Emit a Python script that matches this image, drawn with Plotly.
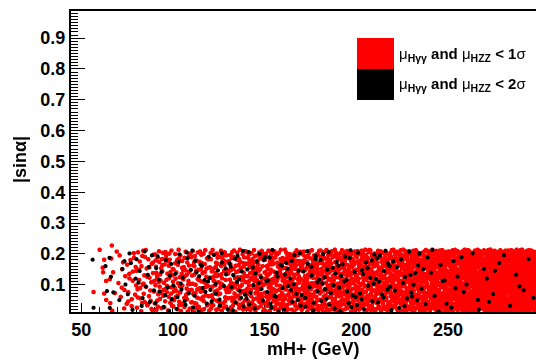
import plotly.graph_objects as go

# ---------------- data ----------------
# isolated points at the low-mass edge, read individually
edge_red_x = [56.7, 60.0, 66.7, 62.5, 61.7, 61.9, 62.5, 63.5, 65.8]
edge_red_y = [0.076, 0.213, 0.227, 0.181, 0.155, 0.140, 0.071, 0.112, 0.040]
edge_black_x = [56.2, 56.7, 65.4, 64.0, 63.2]
edge_black_y = [0.181, 0.025, 0.187, 0.079, 0.160]

# dense band: number of visible points per mH+ bin, estimated from the coverage in the picture
bin_edges = [62, 66, 70, 75, 80, 90, 100, 110, 120, 130, 140, 150, 160, 170, 180,
             190, 200, 210, 220, 230, 240, 250, 260, 270, 280, 290, 298]
red_counts = [2, 5, 10, 15, 42, 58, 62, 62, 66, 70, 88, 94, 98, 102, 108,
              114, 122, 128, 138, 148, 164, 180, 196, 206, 216, 176]
black_counts = [1, 2, 4, 5, 12, 14, 15, 15, 15, 16, 16, 16, 16, 16, 16,
                16, 15, 14, 12, 10, 8, 6, 5, 5, 4, 3]
band_y = [0.012, 0.214]   # vertical extent of the band of |sin alpha|

x_ticks = [50, 100, 150, 200, 250]
y_ticks = [0.1, 0.2, 0.3, 0.4, 0.5, 0.6, 0.7, 0.8, 0.9]


def vdc(k, base):
    """van der Corput radical inverse (deterministic low-discrepancy placement)."""
    v, denom = 0.0, 1.0
    while k:
        k, rem = divmod(k, base)
        denom *= base
        v += rem / denom
    return v


def fill_bins(counts, start, bx, by):
    xs, ys = [], []
    k = start
    for i, n in enumerate(counts):
        lo, hi = bin_edges[i], bin_edges[i + 1]
        for _ in range(n):
            k += 1
            xs.append(lo + (hi - lo) * vdc(k, bx))
            ys.append(band_y[0] + (band_y[1] - band_y[0]) * vdc(k, by))
    return xs, ys


bx_, by_ = fill_bins(black_counts, 7, 3, 2)
rx_, ry_ = fill_bins(red_counts, 101, 2, 3)
black_x = edge_black_x + bx_
black_y = edge_black_y + by_
red_x = edge_red_x + rx_
red_y = edge_red_y + ry_

# ---------------- figure ----------------
W, H = 536, 360
L, R, T, B = 71, 0, 11, 48
pw, ph = W - L - R, H - T - B


def px(xp):
    return (xp - L) / pw


def py(yp):
    return (H - B - yp) / ph


fig = go.Figure()
fig.add_trace(go.Scattergl(x=red_x, y=red_y, mode="markers",
                           marker=dict(color="#ff0000", size=4.6, line=dict(width=0)),
                           showlegend=False, hoverinfo="skip"))
fig.add_trace(go.Scattergl(x=black_x, y=black_y, mode="markers",
                           marker=dict(color="#000000", size=4.4, line=dict(width=0)),
                           showlegend=False, hoverinfo="skip"))

tickfont = dict(family="Liberation Sans, Arial, sans-serif", size=18, color="black", weight="bold")

fig.update_layout(
    width=W, height=H,
    margin=dict(l=L, r=R, t=T, b=B, pad=0),
    paper_bgcolor="white", plot_bgcolor="white",
    showlegend=False,
    xaxis=dict(range=[44.4, 298], tickvals=x_ticks, ticktext=[str(v) for v in x_ticks],
               ticks="inside", ticklen=9, tickwidth=1, tickcolor="black",
               minor=dict(dtick=10, tick0=50, ticks="inside", ticklen=5, tickcolor="black"),
               showline=True, linecolor="black", linewidth=2, mirror=True,
               showgrid=False, zeroline=False, tickfont=tickfont),
    yaxis=dict(range=[0.0112, 0.988], tickvals=y_ticks, ticktext=[f"{v:.1f}" for v in y_ticks],
               ticks="inside", ticklen=14, tickwidth=1, tickcolor="black",
               minor=dict(dtick=0.01, tick0=0, ticks="inside", ticklen=7, tickcolor="black"),
               showline=True, linecolor="black", linewidth=2, mirror=False,
               showgrid=False, zeroline=False, tickfont=tickfont),
)

# axis titles
fig.add_annotation(text="<b>mH+ (GeV)</b>", x=px(313), y=py(349), xref="paper", yref="paper",
                   showarrow=False, xanchor="center", yanchor="middle",
                   font=dict(family="Liberation Sans, Arial, sans-serif", size=18, color="black"))
fig.add_annotation(text="<b>|sinα|</b>", x=px(20), y=py(160), xref="paper", yref="paper",
                   showarrow=False, xanchor="center", yanchor="middle", textangle=-90,
                   font=dict(family="Liberation Sans, Arial, sans-serif", size=18, color="black"))

# legend (ROOT style filled boxes)
fig.add_shape(type="rect", xref="paper", yref="paper", x0=px(357), x1=px(394), y0=py(69), y1=py(38),
              fillcolor="#ff0000", line=dict(width=0))
fig.add_shape(type="rect", xref="paper", yref="paper", x0=px(357), x1=px(394), y0=py(100), y1=py(69),
              fillcolor="#000000", line=dict(width=0))
leg_font = dict(family="Liberation Sans, Arial, sans-serif", size=15, color="black")
fig.add_annotation(text="μ<sub><b>Hγγ</b></sub><b> and </b>μ<sub><b>HZZ</b></sub><b> &lt; 1</b>σ",
                   x=px(397), y=py(54), xref="paper", yref="paper", showarrow=False,
                   xanchor="left", yanchor="middle", font=leg_font)
fig.add_annotation(text="μ<sub><b>Hγγ</b></sub><b> and </b>μ<sub><b>HZZ</b></sub><b> &lt; 2</b>σ",
                   x=px(397), y=py(85), xref="paper", yref="paper", showarrow=False,
                   xanchor="left", yanchor="middle", font=leg_font)

fig.write_html("out.html", config={"displayModeBar": False},
               post_script="document.body.style.margin='0';document.body.style.overflow='hidden';")
